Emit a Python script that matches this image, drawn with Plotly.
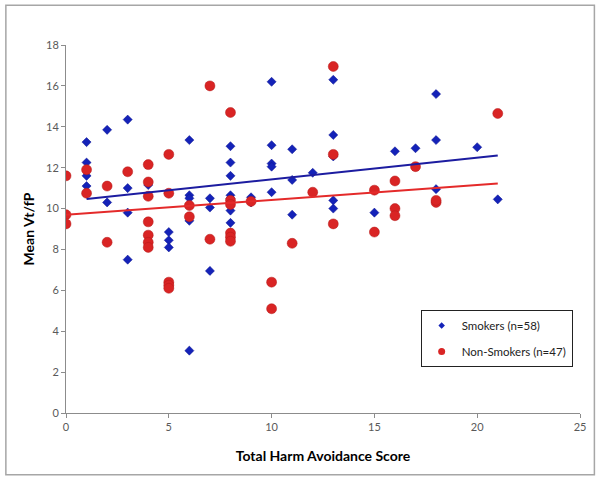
import plotly.graph_objects as go

# Smokers (n=58) - harm avoidance score vs mean Vt/fP
smoker_x = [1, 1, 1, 1, 2, 2, 3, 3, 3, 3, 4, 5, 5, 5,
            6, 6, 6, 6, 6, 7, 7, 7,
            8, 8, 8, 8, 8, 8, 8, 9, 9,
            10, 10, 10, 10, 10, 11, 11, 11, 12,
            13, 13, 13, 13, 13, 15, 16, 17, 18, 18, 18, 20, 21]
smoker_y = [13.25, 12.25, 11.6, 11.1, 13.85, 10.3, 14.35, 11.0, 9.8, 7.5, 11.15, 8.85, 8.45, 8.1,
            13.35, 10.65, 10.5, 9.4, 3.05, 10.5, 10.05, 6.95,
            13.05, 12.25, 11.6, 10.65, 10.5, 9.9, 9.3, 10.55, 10.3,
            16.2, 13.1, 12.2, 12.05, 10.8, 12.9, 11.4, 9.7, 11.75,
            16.3, 13.6, 12.55, 10.4, 10.0, 9.8, 12.8, 12.95, 15.6, 13.35, 10.95, 13.0, 10.45]

# Non-smokers (n=47)
nonsmoker_x = [0, 0, 0, 1, 1, 2, 2, 3, 4, 4, 4, 4, 4, 4, 4,
               5, 5, 5, 5, 5, 6, 6, 7, 7, 8, 8, 8, 8, 8, 8, 9,
               10, 10, 11, 12, 13, 13, 13, 15, 15, 16, 16, 16, 17, 18, 18, 21]
nonsmoker_y = [11.6, 9.7, 9.25, 11.9, 10.75, 11.1, 8.35, 11.8, 12.15, 11.3, 10.6, 9.35, 8.7, 8.35, 8.1,
               12.65, 10.75, 6.4, 6.25, 6.1, 10.15, 9.6, 16.0, 8.5, 14.7, 10.4, 10.2, 8.8, 8.6, 8.4, 10.35,
               6.4, 5.1, 8.3, 10.8, 16.95, 12.65, 9.25, 10.9, 8.85, 11.35, 10.0, 9.65, 12.05, 10.3, 10.4, 14.65]

# linear trend lines
smoker_fit_x = [1, 21]
smoker_fit_y = [10.47, 12.6]
nonsmoker_fit_x = [0, 21]
nonsmoker_fit_y = [9.7, 11.22]

x_ticks = [0, 5, 10, 15, 20, 25]
y_ticks = [0, 2, 4, 6, 8, 10, 12, 14, 16, 18]

BLUE = "#1422b8"
RED = "#d92424"

fig = go.Figure()
fig.add_trace(go.Scatter(x=smoker_x, y=smoker_y, mode="markers", showlegend=False,
                         marker=dict(symbol="diamond", size=7, color=BLUE,
                                     line=dict(color="#0c1490", width=0.5))))
fig.add_trace(go.Scatter(x=nonsmoker_x, y=nonsmoker_y, mode="markers", showlegend=False,
                         marker=dict(symbol="circle", size=10, color=RED,
                                     line=dict(color="#b41a1a", width=0.5))))
fig.add_trace(go.Scatter(x=smoker_fit_x, y=smoker_fit_y, mode="lines", showlegend=False,
                         line=dict(color="#1c1ca0", width=2)))
fig.add_trace(go.Scatter(x=nonsmoker_fit_x, y=nonsmoker_fit_y, mode="lines", showlegend=False,
                         line=dict(color="#e42a2a", width=2)))
# legend entries with the smaller legend symbols
fig.add_trace(go.Scatter(x=[None], y=[None], mode="markers", name="Smokers (n=58)",
                         legendgroup="s",
                         marker=dict(symbol="diamond", size=5, color=BLUE)))
fig.add_trace(go.Scatter(x=[None], y=[None], mode="markers", name="Non-Smokers (n=47)",
                         legendgroup="n",
                         marker=dict(symbol="circle", size=7, color=RED)))

fig.update_layout(
    width=602, height=482,
    margin=dict(l=66, r=22, t=45, b=69),
    paper_bgcolor="white", plot_bgcolor="white",
    font=dict(family="Lato", size=11, color="#595959"),
    legend=dict(x=0.69, y=0.28, xanchor="left", yanchor="top",
                bordercolor="#222222", borderwidth=1, bgcolor="white",
                font=dict(size=11.5, color="#222222"), tracegroupgap=7,
                itemwidth=30),
    shapes=[dict(type="rect", xref="paper", yref="paper",
                 x0=-0.117, x1=1.028, y0=-0.168, y1=1.108,
                 line=dict(color="#a6a6a6", width=1.5))],
)
fig.update_xaxes(range=[0, 25], tickvals=x_ticks, showgrid=False, zeroline=False,
                 showline=True, linecolor="#8c8c8c", linewidth=1,
                 ticks="outside", ticklen=4, tickcolor="#8c8c8c",
                 title=dict(text="<b>Total Harm Avoidance Score</b>", standoff=18,
                            font=dict(size=14, color="black")))
fig.update_yaxes(range=[0, 18], tickvals=y_ticks, showgrid=False, zeroline=False,
                 showline=True, linecolor="#8c8c8c", linewidth=1,
                 ticks="outside", ticklen=4, tickcolor="#8c8c8c",
                 title=dict(text="<b>Mean Vt/fP</b>", standoff=8,
                            font=dict(size=14, color="black")))

# drop the default page margin so the figure sits at the window's corner
fig.write_html("out.html", config={"displayModeBar": False},
               post_script="document.body.style.margin='0';")
